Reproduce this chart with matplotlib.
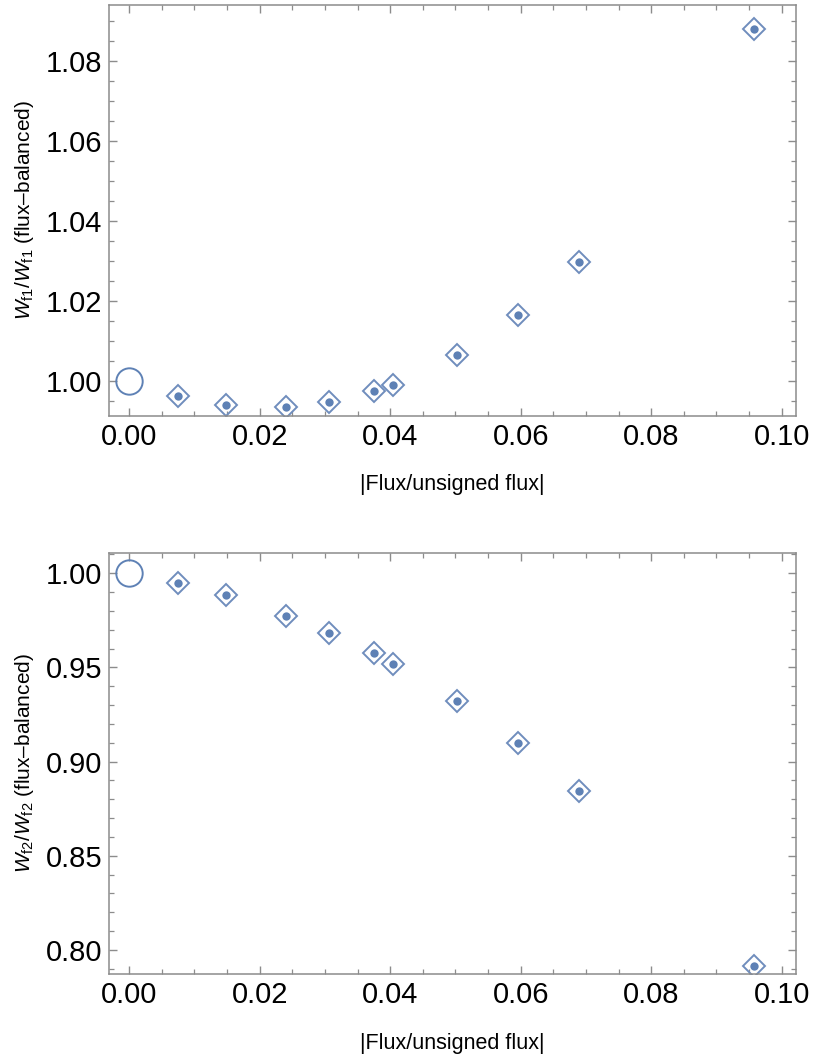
import numpy as np
import matplotlib
matplotlib.use("Agg")
import matplotlib.pyplot as plt
from matplotlib.ticker import MultipleLocator, FormatStrFormatter

plt.rcParams['font.family'] = ['Liberation Sans', 'DejaVu Sans']
plt.rcParams['mathtext.fontset'] = 'custom'
plt.rcParams['mathtext.rm'] = 'Liberation Sans'
plt.rcParams['mathtext.it'] = 'Liberation Sans:italic'

# |Flux / unsigned flux| for each case (first one is the flux-balanced reference)
flux_ratio = [0.0, 0.0074, 0.0148, 0.0240, 0.0306, 0.0375, 0.0405,
              0.0502, 0.0596, 0.0689, 0.0958]
wf1_ratio = [1.0, 0.9963, 0.9940, 0.9935, 0.9949, 0.9976, 0.9991,
             1.0065, 1.0165, 1.0299, 1.0881]
wf2_ratio = [1.0, 0.9947, 0.9883, 0.9775, 0.9683, 0.9579, 0.9520,
             0.9324, 0.9099, 0.8846, 0.7917]

BLUE = '#5E81B5'
EDGE = '#6F8DBD'
FRAME = '#8C8C8C'

fig = plt.figure(figsize=(8.13, 10.64), dpi=100)
ax1 = fig.add_axes([0.1341, 0.6094, 0.845, 0.3859])
ax2 = fig.add_axes([0.1341, 0.0843, 0.845, 0.3962])


def draw_panel(ax, yvals, ylim, major, minor, ylabel):
    ax.plot(flux_ratio[1:], yvals[1:], 'D', ms=11, mfc='none', mec=EDGE, mew=1.4)
    ax.plot(flux_ratio[1:], yvals[1:], 'o', ms=6, color=BLUE, mec='none')
    ax.plot(flux_ratio[:1], yvals[:1], 'o', ms=19, mfc='none', mec=BLUE, mew=1.4)

    ax.set_xlim(-0.0031, 0.1022)
    ax.set_ylim(*ylim)
    ax.xaxis.set_major_locator(MultipleLocator(0.02))
    ax.xaxis.set_minor_locator(MultipleLocator(0.005))
    ax.yaxis.set_major_locator(MultipleLocator(major))
    ax.yaxis.set_minor_locator(MultipleLocator(minor))
    ax.xaxis.set_major_formatter(FormatStrFormatter('%.2f'))
    ax.yaxis.set_major_formatter(FormatStrFormatter('%.2f'))

    ax.tick_params(which='both', direction='in', top=True, right=True,
                   color=FRAME, labelsize=21, pad=5)
    ax.tick_params(which='major', length=6, width=1)
    ax.tick_params(which='minor', length=3.5, width=0.9)
    for s in ax.spines.values():
        s.set_color(FRAME)
        s.set_linewidth(1.1)

    ax.set_xlabel('|Flux/unsigned flux|', fontsize=15.5, labelpad=17)
    ax.set_ylabel(ylabel, fontsize=15, labelpad=7)


draw_panel(ax1, wf1_ratio, (0.9914, 1.094), 0.02, 0.005,
           r'$W_{\mathrm{f1}}/W_{\mathrm{f1}}$ (flux–balanced)')
draw_panel(ax2, wf2_ratio, (0.7871, 1.0109), 0.05, 0.01,
           r'$W_{\mathrm{f2}}/W_{\mathrm{f2}}$ (flux–balanced)')

fig.savefig('out.png', dpi=100)
